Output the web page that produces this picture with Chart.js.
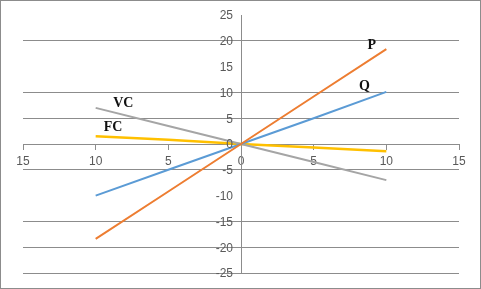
<!DOCTYPE html>
<html>
<head>
<meta charset="utf-8">
<script src="https://cdn.jsdelivr.net/npm/chart.js@4.4.0/dist/chart.umd.min.js"></script>
<style>
  html, body { margin: 0; padding: 0; background: #fff; }
  #wrap { width: 479px; height: 287px; border: 1px solid #8c8c8c; position: relative; }
</style>
</head>
<body>
<div id="wrap"><canvas id="chart"></canvas></div>
<script>
const xValues = [-10, -5, 0, 5, 10];
const pValues = [-18.4, -9.2, 0, 9.2, 18.4];
const qValues = [-10, -5, 0, 5, 10.1];
const vcValues = [7, 3.5, 0, -3.5, -7];
const fcValues = [1.5, 0.8, 0, -0.7, -1.4];

const seriesNames = ['P', 'Q', 'VC', 'FC'];
// where each series name is written, in data units
const nameX = [9.0, 8.5, -8.1, -8.8];
const nameY = [19.2, 11.2, 7.8, 3.3];

const xTicks = [-15, -10, -5, 0, 5, 10, 15];
const yTicks = [25, 20, 15, 10, 5, 0, -5, -10, -15, -20, -25];
const hiddenGrid = [25, 15, -10]; // these lines don't show in the original

const colors = ['#ed7d31', '#5b9bd5', '#a5a5a5', '#ffc000'];

function toPoints(vals) {
  return xValues.map((x, i) => ({ x: x, y: vals[i] }));
}

// y labels sit left of the centred axis, chart.js centres them on it otherwise
const yLabels = {
  id: 'yLabels',
  afterDraw(chart) {
    const ctx = chart.ctx;
    const xs = chart.scales.x;
    const ys = chart.scales.y;
    const axisX = xs.getPixelForValue(0);
    ctx.save();
    ctx.font = '12px "Liberation Sans"';
    ctx.fillStyle = '#595959';
    ctx.textAlign = 'right';
    ctx.textBaseline = 'middle';
    yTicks.forEach((v) => {
      ctx.fillText(String(v), axisX - 8, ys.getPixelForValue(v) + 1);
    });
    ctx.restore();
  }
};

const nameLabels = {
  id: 'nameLabels',
  afterDatasetsDraw(chart) {
    const ctx = chart.ctx;
    const xs = chart.scales.x;
    const ys = chart.scales.y;
    ctx.save();
    ctx.font = 'bold 14px "Liberation Serif"';
    ctx.fillStyle = '#111';
    ctx.textAlign = 'center';
    ctx.textBaseline = 'middle';
    seriesNames.forEach((name, i) => {
      ctx.fillText(name, xs.getPixelForValue(nameX[i]), ys.getPixelForValue(nameY[i]));
    });
    ctx.restore();
  }
};

new Chart(document.getElementById('chart'), {
  type: 'scatter',
  data: {
    datasets: [pValues, qValues, vcValues, fcValues].map((vals, i) => ({
      label: seriesNames[i],
      data: toPoints(vals),
      showLine: true,
      borderColor: colors[i],
      backgroundColor: colors[i],
      borderWidth: i === 3 ? 2.5 : 2,
      pointRadius: 0,
      tension: 0
    }))
  },
  options: {
    responsive: true,
    maintainAspectRatio: false,
    animation: false,
    layout: { padding: { left: 22, right: 21, top: 14, bottom: 15 } },
    plugins: { legend: { display: false }, tooltip: { enabled: false } },
    scales: {
      x: {
        type: 'linear',
        position: { y: 0 },
        min: -15,
        max: 15,
        afterBuildTicks: (axis) => { axis.ticks = xTicks.map(v => ({ value: v })); },
        ticks: {
          color: '#595959',
          font: { family: 'Liberation Sans', size: 12 },
          padding: 5,
          maxRotation: 0,
          callback: (v) => Math.abs(v)
        },
        grid: { drawOnChartArea: false, drawTicks: true, tickLength: 5, color: '#8c8c8c' },
        border: { color: '#8c8c8c', width: 1 }
      },
      y: {
        type: 'linear',
        position: { x: 0 },
        min: -25,
        max: 25,
        afterBuildTicks: (axis) => { axis.ticks = yTicks.map(v => ({ value: v })); },
        ticks: { display: false },
        grid: {
          drawTicks: false,
          color: (c) => hiddenGrid.includes(c.tick && c.tick.value) ? 'rgba(0,0,0,0)' : '#8c8c8c'
        },
        border: { color: '#8c8c8c', width: 1 }
      }
    }
  },
  plugins: [nameLabels, yLabels]
});
</script>
</body>
</html>
